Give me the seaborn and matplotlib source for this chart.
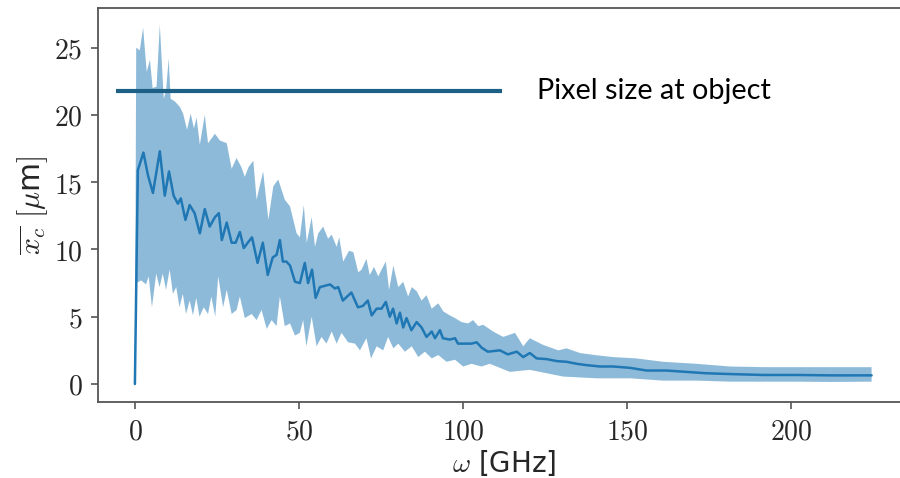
import numpy as np
import pandas as pd
import matplotlib
matplotlib.use("Agg")
import matplotlib.pyplot as plt
from matplotlib.ticker import FuncFormatter, FixedLocator
import seaborn as sns

# ---- data ----
mean_x = [0, 0.9, 2.6, 4, 5.5, 7.6, 9.1, 10.4, 11.8, 13.1, 14, 15.4, 16.7, 18.2, 19.8, 21.3, 22.8, 24.4,
          25.6, 26.5, 28, 29.5, 30.7, 32, 33.2, 34.4, 35.7, 37.4, 39, 40.5, 42, 43.2, 44.2, 45.1, 46.2,
          47.3, 48.8, 50.3, 51.8, 52.8, 54, 55.1, 56.4, 59.5, 61, 62, 63.4, 66, 68, 69.5, 71, 72.2, 73.7,
          75.2, 76.5, 77.7, 78.7, 79.8, 80.8, 81.8, 82.8, 84.3, 85.9, 87.4, 88.9, 90.5, 91.5, 93, 93.9,
          96, 97.6, 98.5, 100.6, 102.6, 104.2, 105.7, 107.6, 111.3, 113.7, 116.4, 118.4, 120.4, 122.5,
          125.5, 128.6, 131.6, 134.7, 137.7, 141.8, 145.8, 150.9, 156, 162, 168, 174, 181, 191.5, 201.7,
          212, 224.6]
mean_y = [0, 15.9, 17.2, 15.5, 14.2, 17.3, 14.0, 15.8, 14.0, 13.4, 13.8, 12.2, 13.3, 12.7, 11.2, 13.0, 11.7, 12.4,
          12.7, 10.7, 12.0, 10.5, 10.5, 11.3, 10.1, 10.5, 10.9, 9.0, 10.5, 8.1, 9.4, 9.6, 10.7, 9.1, 9.1,
          8.8, 7.6, 7.5, 9.0, 7.5, 8.5, 6.4, 7.2, 7.4, 7.1, 7.2, 6.2, 6.8, 5.7, 5.8, 6.2, 5.1, 5.6,
          5.6, 6.1, 5.0, 5.6, 4.5, 5.3, 4.2, 4.9, 4.0, 4.6, 4.2, 3.5, 3.9, 3.4, 4.0, 3.4,
          3.3, 3.4, 3.0, 3.0, 3.0, 3.1, 2.7, 2.4, 2.5, 2.2, 2.4, 2.0, 2.3, 1.9,
          1.85, 1.7, 1.65, 1.5, 1.4, 1.3, 1.3, 1.2, 1.0, 1.0, 0.9, 0.8, 0.74, 0.67, 0.67,
          0.64, 0.64]

upper_x = [0, 0.4, 1.5, 2.5, 3.6, 4.6, 5.4, 6.6, 7.6, 8.8, 9.5, 10.3, 10.9, 12.2, 13.7, 14.7, 15.9, 17, 18,
           18.8, 19.8, 21.3, 22.3, 24.4, 25.9, 28, 29.5, 31, 32.5, 33.5, 34.6, 36.1, 37.1, 39.1, 40.7,
           42.2, 43.7, 45.7, 47.3, 49.3, 50.3, 51.5, 52.4, 53.9, 54.9, 55.9, 57.4, 58.9, 60, 61.5, 62.3,
           63.5, 65.3, 66.6, 68.1, 69.1, 70.6, 71.6, 72.9, 74.2, 75.2, 76.5, 77.5, 78.8, 80.3, 81.8, 83.3,
           84.4, 85.9, 87.4, 88.9, 90.5, 92.5, 94, 96, 97.6, 99.6, 101.6, 103.1, 104.7, 106.2, 109.2,
           112.3, 115.9, 118.4, 120.4, 124.5, 129.1, 131.6, 135.7, 140.2, 145.8, 152.9, 161, 171.2,
           181.4, 191.6, 201.7, 211.9, 224.6]
upper_y = [0, 25.0, 24.8, 26.5, 23.2, 24.1, 22.0, 22.1, 26.7, 21.2, 21.8, 24.2, 21.2, 21.0, 20.6, 20.1, 18.9, 20.1, 19.0,
           19.8, 17.8, 20.0, 17.9, 18.6, 18.1, 17.9, 16.0, 16.8, 16.1, 15.4, 16.1, 16.6, 13.7, 15.8, 12.2,
           14.7, 15.2, 13.7, 13.2, 11.2, 10.9, 13.3, 10.5, 12.4, 10.2, 11.2, 11.7, 10.8, 11.1, 10.2, 10.9,
           9.1, 9.9, 9.8, 8.3, 8.5, 9.3, 8.1, 8.7, 8.0, 8.5, 9.1, 7.0, 8.8, 7.2, 7.6, 6.5,
           7.2, 6.9, 6.2, 6.6, 5.6, 6.0, 5.4, 5.1, 4.9, 4.6, 4.5, 4.75, 4.3, 4.4, 3.9,
           3.5, 3.8, 2.8, 3.4, 2.9, 2.5, 2.65, 2.3, 2.15, 2.0, 1.9, 1.65, 1.5,
           1.3, 1.25, 1.25, 1.25, 1.25]

lower_x = [0, 0.4, 1.9, 3.4, 4.2, 5.2, 6.5, 7.5, 8.5, 9.5, 10.6, 11.6, 12.6, 13.6, 14.6, 15.6, 16.7, 17.7,
           18.7, 19.7, 21, 22.3, 23.3, 24.5, 25.4, 26.9, 28, 29.5, 31, 32, 33.5, 35.6, 37.1, 38.6, 40.2,
           41.7, 43.2, 44.2, 45.7, 47.3, 48.8, 50.3, 51.3, 52.3, 53.9, 55.4, 56.9, 58.4, 60, 61.5, 63,
           65, 67.1, 68.6, 70.6, 72, 73.7, 75.7, 77.2, 78.8, 80.3, 82.3, 84.4, 86.4, 88.4, 90.5, 92.5,
           95, 97.6, 100.1, 102.6, 105.7, 108.2, 114.3, 120.4, 130.6, 140.8, 150.9, 161, 171.2, 181.4,
           191.5, 201.7, 212, 224.6]
lower_y = [0, 7.5, 7.7, 7.4, 8.0, 5.7, 8.2, 7.2, 8.2, 7.0, 8.5, 6.7, 7.2, 5.7, 6.7, 5.2, 6.2, 5.1,
           6.4, 5.0, 5.7, 5.2, 6.5, 5.0, 8.0, 5.7, 7.0, 5.2, 5.5, 6.5, 4.9, 5.2, 4.75, 5.5, 4.1,
           4.75, 4.3, 6.5, 4.3, 4.5, 3.6, 3.8, 4.75, 2.8, 5.0, 2.8, 3.5, 3.0, 3.9, 3.0, 3.8,
           3.1, 3.0, 2.5, 3.4, 1.9, 2.8, 2.5, 3.5, 2.65, 3.0, 2.4, 2.8, 2.0, 2.4, 1.9, 2.15,
           1.65, 1.8, 1.3, 1.5, 1.3, 1.5, 0.9, 1.05, 0.55, 0.42, 0.42, 0.25, 0.25, 0.17,
           0.17, 0.17, 0.15, 0.17]

pixel_size = 21.8
pixel_line_x = [-5.8, 112.0]
pixel_label = "Pixel size at object"
pixel_label_x = 122.5

x_ticks = [0, 50, 100, 150, 200]
y_ticks = [0, 5, 10, 15, 20, 25]

# ---- styling ----
sns.set_style("ticks")
plt.rcParams["font.family"] = ["DejaVu Sans"]
plt.rcParams["mathtext.fontset"] = "cm"

fig = plt.figure(figsize=(9.0, 4.78), dpi=100)
ax = fig.add_axes([98 / 900, 76 / 478, 0.902, (402 - 8) / 478])

band_color = "#1f77b4"
# band as a polygon from upper and lower edges
ax.fill(np.concatenate([upper_x, lower_x[::-1]]),
        np.concatenate([upper_y, lower_y[::-1]]),
        color=band_color, alpha=0.5, lw=0)

df = pd.DataFrame({"omega": mean_x, "xc": mean_y})
sns.lineplot(data=df, x="omega", y="xc", ax=ax, color=band_color, lw=1.8)

ax.hlines(pixel_size, pixel_line_x[0], pixel_line_x[1], color="#1d6085", lw=3.0)
ax.text(pixel_label_x, pixel_size, pixel_label, fontsize=20.8, family=["Lato", "DejaVu Sans"],
        va="center", ha="left", color="black")

ax.set_xlim(-11.25, 236.25)
ax.set_ylim(-1.34, 27.95)
ax.xaxis.set_major_locator(FixedLocator(x_ticks))
ax.yaxis.set_major_locator(FixedLocator(y_ticks))
fmt = FuncFormatter(lambda v, p: r"$%g$" % v)
ax.xaxis.set_major_formatter(fmt)
ax.yaxis.set_major_formatter(fmt)
ax.tick_params(axis="both", labelsize=20, length=5, width=1.2, color="#555555", pad=6)

for side in ["left", "bottom", "top", "right"]:
    ax.spines[side].set_color("#555555")
    ax.spines[side].set_linewidth(1.3)

ax.set_xlabel(r"$\omega$ [GHz]", fontsize=20, labelpad=2)
ax.set_ylabel(r"$\overline{x_c}$ $[\mu$m$]$", fontsize=21.5, labelpad=3)

fig.savefig("out.png", dpi=100)
